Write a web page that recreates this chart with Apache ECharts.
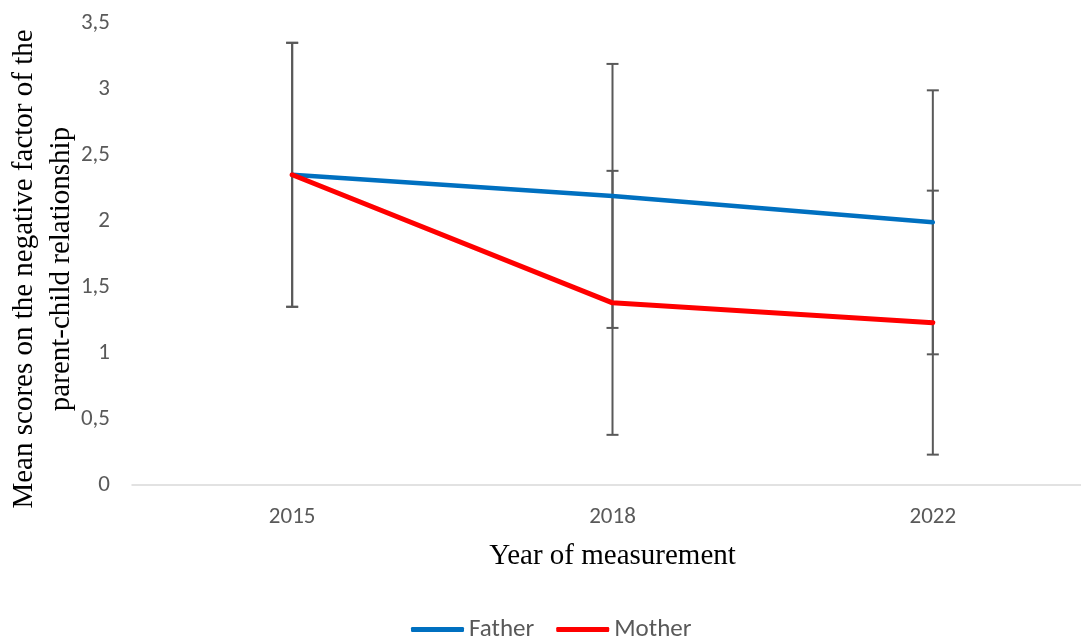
<!DOCTYPE html>
<html>
<head>
<meta charset="utf-8">
<script src="https://cdn.jsdelivr.net/npm/echarts@6/dist/echarts.min.js"></script>
<style>
  html, body { margin: 0; padding: 0; background: #ffffff; }
  #chart { width: 1081px; height: 636px; }
</style>
</head>
<body>
<div id="chart"></div>
<script>
// Measurement years
const years = ['2015', '2018', '2022'];
// Mean scores per parent
const fatherMeans = [2.35, 2.19, 1.99];
const motherMeans = [2.35, 1.38, 1.23];
// Error bar half-widths (± around the mean)
const fatherErr = [1.0, 1.0, 1.0];
const motherErr = [1.0, 1.0, 1.0];
// Y-axis ticks
const yTicks = [0, 0.5, 1, 1.5, 2, 2.5, 3, 3.5];
// Axis titles
const xTitle = 'Year of measurement';
const yTitle = 'Mean scores on the negative factor of the\nparent-child relationship';

const labelFont = 'Carlito, Lato, "Open Sans", sans-serif';
const serifFont = '"Liberation Serif", "Times New Roman", serif';

function errorData(means, errs) {
  return means.map((m, i) => [i, m - errs[i], m + errs[i]]);
}

function renderErrorBar(params, api) {
  const idx = api.value(0);
  const lo = api.coord([idx, api.value(1)]);
  const hi = api.coord([idx, api.value(2)]);
  const cap = 6;
  const style = { stroke: '#595959', lineWidth: 2 };
  return {
    type: 'group',
    children: [
      { type: 'line', shape: { x1: hi[0], y1: hi[1], x2: lo[0], y2: lo[1] }, style },
      { type: 'line', shape: { x1: hi[0] - cap, y1: hi[1], x2: hi[0] + cap, y2: hi[1] }, style },
      { type: 'line', shape: { x1: lo[0] - cap, y1: lo[1], x2: lo[0] + cap, y2: lo[1] }, style }
    ]
  };
}

const chart = echarts.init(document.getElementById('chart'), null, { renderer: 'canvas' });

chart.setOption({
  backgroundColor: '#ffffff',
  animation: false,
  grid: { left: 132, top: 23, width: 961, height: 462, outerBoundsMode: 'none', containLabel: false },
  // Rotated y-axis title, two lines
  graphic: [
    {
      type: 'text',
      x: 43,
      y: 269,
      rotation: Math.PI / 2,
      style: {
        text: yTitle,
        fill: '#000000',
        fontSize: 29,
        fontFamily: serifFont,
        lineHeight: 37,
        align: 'center',
        verticalAlign: 'middle'
      }
    }
  ],
  legend: {
    data: ['Father', 'Mother'],
    top: 617,
    left: 411,
    padding: 0,
    itemWidth: 53,
    itemHeight: 5,
    itemGap: 22,
    icon: 'roundRect',
    textStyle: { color: '#595959', fontSize: 25, fontFamily: labelFont }
  },
  xAxis: {
    type: 'category',
    data: years,
    boundaryGap: true,
    axisLine: { show: true, lineStyle: { color: '#d9d9d9', width: 1.5 } },
    axisTick: { show: false },
    axisLabel: { color: '#595959', fontSize: 23, fontFamily: labelFont, margin: 21 },
    name: xTitle,
    nameLocation: 'middle',
    nameGap: 57,
    nameTextStyle: { color: '#000000', fontSize: 29, fontFamily: serifFont }
  },
  yAxis: {
    type: 'value',
    min: yTicks[0],
    max: yTicks[yTicks.length - 1],
    interval: 0.5,
    splitLine: { show: false },
    axisLine: { show: false },
    axisTick: { show: false },
    axisLabel: {
      color: '#595959',
      fontSize: 23,
      fontFamily: labelFont,
      margin: 22,
      formatter: v => String(v).replace('.', ',')
    }
  },
  series: [
    {
      name: 'Father error',
      type: 'custom',
      renderItem: renderErrorBar,
      data: errorData(fatherMeans, fatherErr),
      z: 1,
      silent: true
    },
    {
      name: 'Mother error',
      type: 'custom',
      renderItem: renderErrorBar,
      data: errorData(motherMeans, motherErr),
      z: 1,
      silent: true
    },
    {
      name: 'Father',
      type: 'line',
      data: fatherMeans,
      showSymbol: false,
      symbol: 'none',
      lineStyle: { color: '#0070C0', width: 4.5, cap: 'round' },
      itemStyle: { color: '#0070C0' },
      z: 3
    },
    {
      name: 'Mother',
      type: 'line',
      data: motherMeans,
      showSymbol: false,
      symbol: 'none',
      lineStyle: { color: '#FF0000', width: 5, cap: 'round' },
      itemStyle: { color: '#FF0000' },
      z: 4
    }
  ]
});
</script>
</body>
</html>
